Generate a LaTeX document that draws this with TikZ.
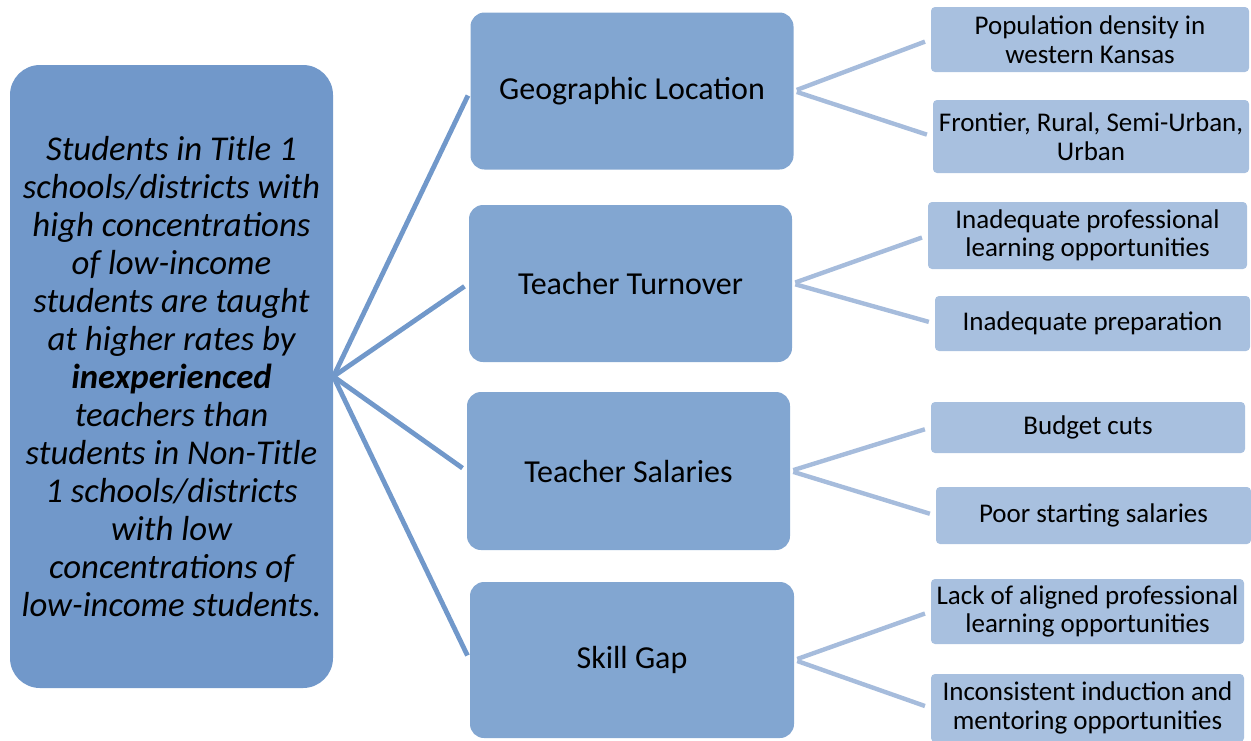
\documentclass[tikz,border=0pt]{standalone}
\usepackage{fontspec}
\setmainfont{Carlito}
\definecolor{rootblue}{HTML}{7198CA}
\definecolor{midblue}{HTML}{82A6D1}
\definecolor{leafblue}{HTML}{A8C0DF}
\definecolor{leafline}{HTML}{A6BCDC}
\begin{document}
\begin{tikzpicture}[x=0.5pt,y=-0.5pt,
  rootbox/.style={fill=rootblue, rounded corners=15pt, minimum width=161.5pt, minimum height=311.5pt, align=center, inner sep=0pt, font=\fontsize{17.4}{19}\selectfont\itshape},
  midbox/.style={fill=midblue, rounded corners=7pt, minimum width=161.5pt, minimum height=78.5pt, inner sep=0pt, font=\fontsize{16}{18}\selectfont},
  leafbox/.style={fill=leafblue, rounded corners=2pt, inner sep=0pt, align=center, font=\fontsize{13.5}{14.3}\selectfont},
  rootline/.style={draw=rootblue, line width=2.4pt, shorten >=2.5pt},
  leafline/.style={draw=leafline, line width=2.2pt, shorten <=1.5pt, shorten >=3pt}]
\useasboundingbox (0,0) rectangle (1251,740);
\node[rootbox](root) at (171.5,376.5) {Students in Title 1\\schools/districts with\\high concentrations\\of low-income\\students are taught\\at higher rates by\\\textbf{inexperienced}\\teachers than\\students in Non-Title\\1 schools/districts\\with low\\concentrations of\\low-income students.};
\node[midbox](geo) at (632,91) {Geographic Location};
\node[midbox](turn) at (630.5,283.5) {Teacher Turnover};
\node[midbox, minimum height=79pt](sal) at (628.5,471) {Teacher Salaries};
\node[midbox, minimum width=162pt, minimum height=78pt](skill) at (632,660) {Skill Gap};
% leaves
\node[leafbox, minimum width=159pt, minimum height=32.5pt](pop) at (1090,39.5) {Population density in\\western Kansas};
\node[leafbox, minimum width=158pt, minimum height=36.5pt](front) at (1091,136.5) {Frontier, Rural, Semi-Urban,\\Urban};
\node[leafbox, minimum width=159.5pt, minimum height=33.5pt](inprof) at (1087.5,235.5) {Inadequate professional\\learning opportunities};
\node[leafbox, minimum width=157.5pt, minimum height=27.5pt](inprep) at (1092.5,323.5) {Inadequate preparation};
\node[leafbox, minimum width=157pt, minimum height=25.5pt](budget) at (1088,427.5) {Budget cuts};
\node[leafbox, minimum width=157.5pt, minimum height=28.5pt](poor) at (1093.5,515.5) {Poor starting salaries};
\node[leafbox, minimum width=156.5pt, minimum height=32.5pt](lack) at (1087.5,611.5) {Lack of aligned professional\\learning opportunities};
\node[leafbox, minimum width=156.5pt, minimum height=34pt](incons) at (1087.5,708) {Inconsistent induction and\\mentoring opportunities};
\foreach \m in {geo,turn,sal,skill}
  \draw[rootline] (root.east) -- (\m.west);
\draw[leafline] (geo.east) -- (pop.west);
\draw[leafline] (geo.east) -- (front.west);
\draw[leafline] (turn.east) -- (inprof.west);
\draw[leafline] (turn.east) -- (inprep.west);
\draw[leafline] (sal.east) -- (budget.west);
\draw[leafline] (sal.east) -- (poor.west);
\draw[leafline] (skill.east) -- (lack.west);
\draw[leafline] (skill.east) -- (incons.west);
\end{tikzpicture}
\end{document}
